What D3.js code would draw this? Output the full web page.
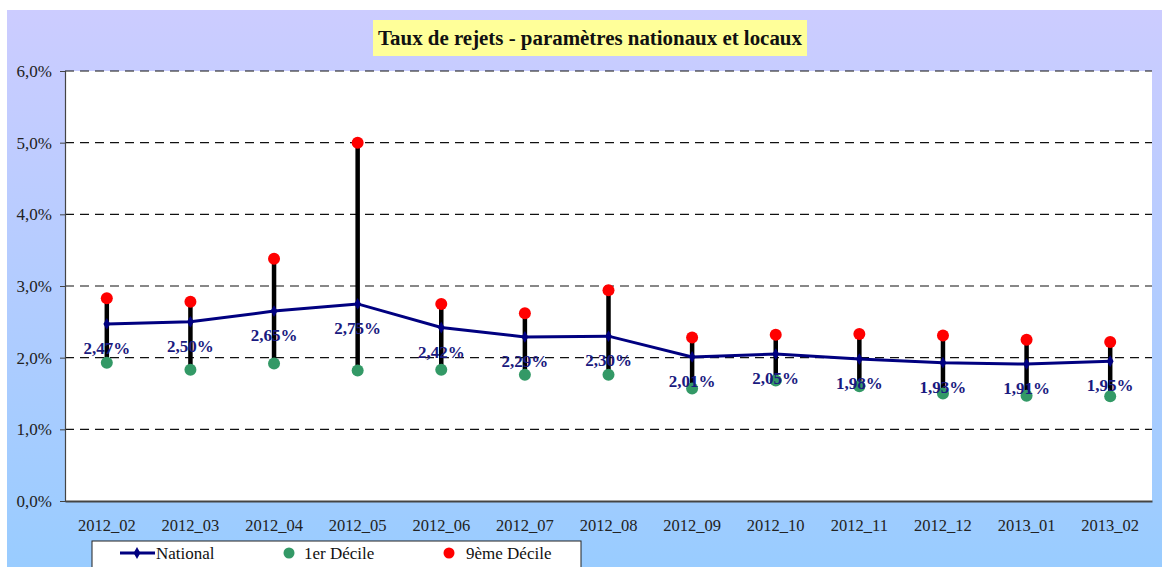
<!DOCTYPE html>
<html><head><meta charset="utf-8">
<script src="https://cdn.jsdelivr.net/npm/d3@7"></script>
<style>body{margin:0;background:#fff;}svg{display:block;} text{font-family:"Liberation Serif","Times New Roman",serif;}</style>
</head><body>
<script>
const categories = ["2012_02","2012_03","2012_04","2012_05","2012_06","2012_07","2012_08","2012_09","2012_10","2012_11","2012_12","2013_01","2013_02"];
const national = [2.47,2.50,2.65,2.75,2.42,2.29,2.30,2.01,2.05,1.98,1.93,1.91,1.95];
const decile1 = [1.93,1.83,1.92,1.82,1.83,1.76,1.76,1.57,1.68,1.60,1.50,1.47,1.46];
const decile9 = [2.83,2.78,3.38,5.00,2.75,2.62,2.94,2.28,2.32,2.33,2.31,2.25,2.22];
const yTicks = [0,1,2,3,4,5,6];
const title = "Taux de rejets - paramètres nationaux et locaux";
const legendLabels = ["National","1er Décile","9ème Décile"];

const W = 1162, H = 567;
const svg = d3.select("body").append("svg").attr("width", W).attr("height", H);
const defs = svg.append("defs");
const grad = defs.append("linearGradient").attr("id","bg").attr("x1",0).attr("y1",0).attr("x2",0).attr("y2",1);
grad.append("stop").attr("offset","0%").attr("stop-color","#ccccff");
grad.append("stop").attr("offset","100%").attr("stop-color","#99ccff");
svg.append("rect").attr("x",7).attr("y",10).attr("width",W-7).attr("height",H-10).attr("fill","url(#bg)");

const L = 65, R = 1152, T = 71, B = 501;
const x = d3.scaleBand().domain(categories).range([L, R]);
const y = d3.scaleLinear().domain([0, 6]).range([B, T]);
const cx = d => x(d) + x.bandwidth()/2;
const serif = '"Liberation Serif","Times New Roman",serif';

svg.append("rect").attr("x",L).attr("y",T).attr("width",R-L).attr("height",B-T).attr("fill","#fff");

// grid
svg.append("g").selectAll("line").data(yTicks.filter(v=>v>0)).join("line")
  .attr("x1",L).attr("x2",R).attr("y1",d=>y(d)).attr("y2",d=>y(d))
  .attr("stroke","#111").attr("stroke-width",1.2).attr("stroke-dasharray","9,6");

// y axis
const yAxis = d3.axisLeft(y).tickValues(yTicks).tickSize(5).tickPadding(8)
  .tickFormat(d => d3.format(".1f")(d).replace(".", ",") + "%");
const gy = svg.append("g").attr("transform",`translate(${L},0)`).call(yAxis).attr("font-family",null);
gy.select(".domain").attr("stroke","#444").attr("stroke-width",1.2);
gy.selectAll(".tick line").attr("stroke","#444");
gy.selectAll("text").style("font-family",serif).attr("font-size",17).attr("fill","#222");

// x axis
const xAxis = d3.axisBottom(x).tickSize(0).tickPadding(18);
const gx = svg.append("g").attr("transform",`translate(0,${B})`).call(xAxis).attr("font-family",null);
gx.select(".domain").attr("stroke","#444").attr("stroke-width",2);
gx.selectAll("text").style("font-family",serif).attr("font-size",16.5).attr("fill","#222");

// stems
svg.append("g").selectAll("line").data(categories).join("line")
  .attr("x1",d=>cx(d)).attr("x2",d=>cx(d))
  .attr("y1",(d,i)=>y(decile1[i])).attr("y2",(d,i)=>y(decile9[i]))
  .attr("stroke","#000").attr("stroke-width",4.5);

// dots
svg.append("g").selectAll("circle").data(categories).join("circle")
  .attr("cx",d=>cx(d)).attr("cy",(d,i)=>y(decile1[i])).attr("r",6).attr("fill","#339966");
svg.append("g").selectAll("circle").data(categories).join("circle")
  .attr("cx",d=>cx(d)).attr("cy",(d,i)=>y(decile9[i])).attr("r",6).attr("fill","#ff0000");

// national line
const line = d3.line().x((d,i)=>cx(categories[i])).y(d=>y(d));
svg.append("path").datum(national).attr("d",line).attr("fill","none").attr("stroke","#000080").attr("stroke-width",3);
const diamond = d3.symbol().type(d3.symbolDiamond).size(40);
svg.append("g").selectAll("path").data(national).join("path")
  .attr("d",diamond).attr("transform",(d,i)=>`translate(${cx(categories[i])},${y(d)})`).attr("fill","#000080");

// labels
svg.append("g").selectAll("text").data(national).join("text")
  .attr("x",(d,i)=>cx(categories[i])).attr("y",d=>y(d)+30)
  .attr("text-anchor","middle").style("font-family",serif).attr("font-weight","bold").attr("font-size",17)
  .attr("fill","#1a1a80")
  .text(d=>d3.format(".2f")(d).replace(".", ",") + "%");

// title
svg.append("rect").attr("x",373).attr("y",20).attr("width",434).attr("height",36).attr("fill","#ffff99");
const tt = svg.append("text").attr("x",590).attr("y",45).attr("text-anchor","middle")
  .style("font-family",serif).attr("font-weight","bold").attr("font-size",19).attr("fill","#111").text(title);
const tw = tt.node().getComputedTextLength();
if (tw > 0) tt.attr("font-size", 19 * 424 / tw);

// legend
const lg = svg.append("g");
lg.append("rect").attr("x",92).attr("y",541).attr("width",489).attr("height",40).attr("fill","#fff").attr("stroke","#222").attr("stroke-width",1);
lg.append("line").attr("x1",120).attr("x2",155).attr("y1",553).attr("y2",553).attr("stroke","#000080").attr("stroke-width",3);
lg.append("path").attr("d",diamond).attr("transform","translate(137,553)").attr("fill","#000080");
lg.append("circle").attr("cx",289).attr("cy",553).attr("r",5.5).attr("fill","#339966");
lg.append("circle").attr("cx",449).attr("cy",553).attr("r",5.5).attr("fill","#ff0000");
const lx = [156, 304, 466];
lg.selectAll("text").data(legendLabels).join("text")
  .attr("x",(d,i)=>lx[i]).attr("y",559).style("font-family",serif).attr("font-size",17).attr("fill","#111").text(d=>d);
</script>
</body></html>
